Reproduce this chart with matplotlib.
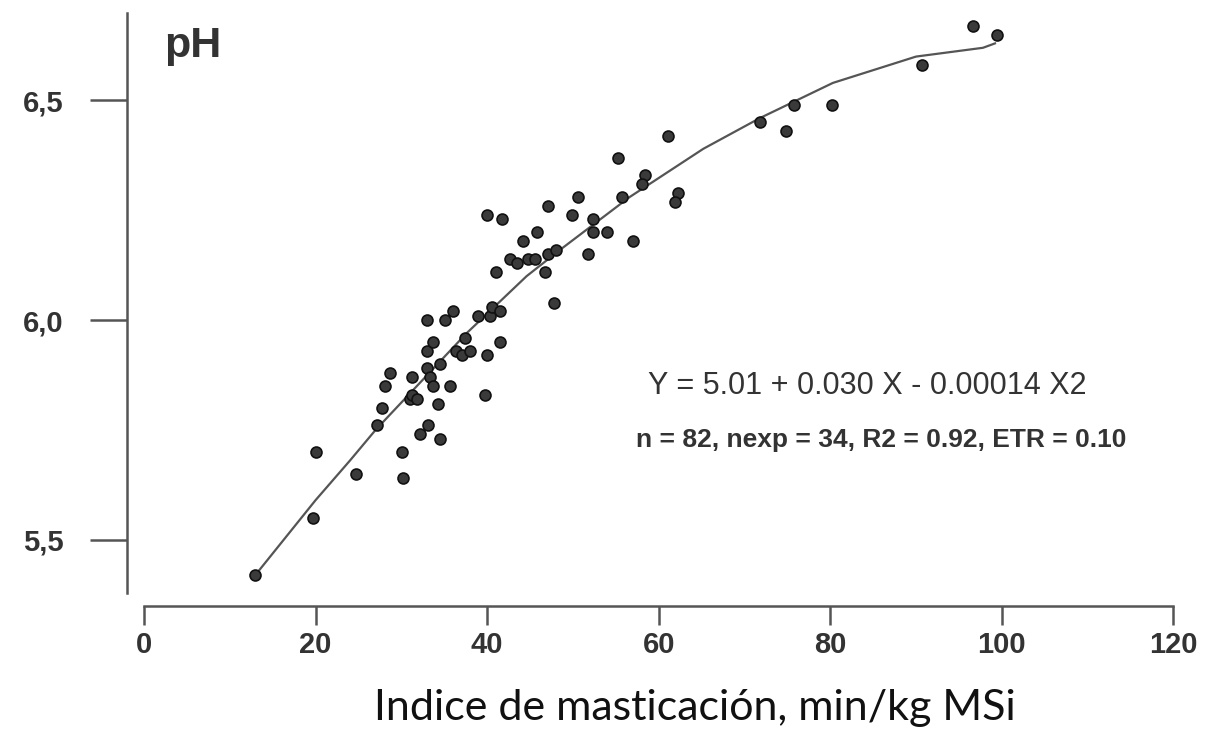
import numpy as np
import matplotlib
matplotlib.use("Agg")
import matplotlib.pyplot as plt

# chewing index (min/kg MSi) and rumen pH
masticacion = [12.9, 19.7, 20.0, 24.7, 27.2, 27.7, 28.1, 28.7, 30.1, 30.2,
               31.0, 31.2, 31.8, 31.2, 32.2, 33.1, 34.5, 33.0, 33.3, 33.7,
               34.3, 34.5, 35.7, 33.0, 33.7, 33.0, 35.1, 36.0, 36.4, 37.1,
               38.0, 37.4, 38.9, 40.3, 40.6, 41.5, 40.0, 39.7, 41.5, 41.0,
               42.7, 43.5, 44.8, 45.6, 46.7, 47.8, 44.2, 45.8, 47.1, 48.0,
               40.0, 41.7, 47.1, 49.9, 50.6, 51.7, 52.3, 52.3, 54.0, 57.0,
               55.7, 55.2, 58.4, 58.0, 62.2, 61.9, 61.1, 71.8, 74.8, 75.8,
               80.2, 90.7, 96.6, 99.4]
ph = [5.42, 5.55, 5.70, 5.65, 5.76, 5.80, 5.85, 5.88, 5.70, 5.64,
      5.82, 5.83, 5.82, 5.87, 5.74, 5.76, 5.73, 5.89, 5.87, 5.85,
      5.81, 5.90, 5.85, 5.93, 5.95, 6.00, 6.00, 6.02, 5.93, 5.92,
      5.93, 5.96, 6.01, 6.01, 6.03, 6.02, 5.92, 5.83, 5.95, 6.11,
      6.14, 6.13, 6.14, 6.14, 6.11, 6.04, 6.18, 6.20, 6.15, 6.16,
      6.24, 6.23, 6.26, 6.24, 6.28, 6.15, 6.23, 6.20, 6.20, 6.18,
      6.28, 6.37, 6.33, 6.31, 6.29, 6.27, 6.42, 6.45, 6.43, 6.49,
      6.49, 6.58, 6.67, 6.65]

# fitted curve as drawn
curva_x = [13, 20, 24, 27, 37.6, 44.6, 48.5, 56.6, 65.2, 71.8, 80.3, 90, 97.8, 99.2]
curva_y = [5.42, 5.59, 5.68, 5.75, 5.97, 6.10, 6.16, 6.28, 6.39, 6.46, 6.54, 6.60, 6.62, 6.63]

xticks = [0, 20, 40, 60, 80, 100, 120]
yticks = [5.5, 6.0, 6.5]
ytick_labels = ["5,5", "6,0", "6,5"]

plt.rcParams['font.family'] = ['Liberation Sans', 'DejaVu Sans']

fig = plt.figure(figsize=(12.19, 7.31), dpi=100)
ax = fig.add_axes([0.1042, 0.171, 0.876, 0.8153])

ax.plot(curva_x, curva_y, color='#555555', lw=1.6, zorder=2)
ax.scatter(masticacion, ph, s=62, facecolor='#3a3a3a', edgecolor='#111111',
           linewidth=1.2, zorder=3)

ax.set_xlim(-1.98, 122.5)
ax.set_ylim(5.349, 6.706)

for side in ['top', 'right']:
    ax.spines[side].set_visible(False)
for side in ['left', 'bottom']:
    ax.spines[side].set_color('#555555')
    ax.spines[side].set_linewidth(1.8)
ax.spines['left'].set_bounds(5.378, 6.699)
ax.spines['bottom'].set_bounds(0, 120)

ax.set_xticks(xticks)
ax.set_xticklabels([str(t) for t in xticks])
ax.set_yticks(yticks)
ax.set_yticklabels(ytick_labels)
ax.tick_params(axis='y', length=26.5, width=1.8, color='#555555', pad=19,
               labelsize=21, labelcolor='#333333')
ax.tick_params(axis='x', length=14, width=1.8, color='#555555', pad=4,
               labelsize=21, labelcolor='#333333')
for lab in ax.get_xticklabels() + ax.get_yticklabels():
    lab.set_fontweight('bold')

ax.text(2.4, 6.60, "pH", fontsize=31, fontweight='bold', color='#333333',
        ha='left', va='baseline')
ax.text(58.7, 5.85, "Y = 5.01 + 0.030 X - 0.00014 X2", fontsize=22,
        color='#333333', ha='left', va='center')
ax.text(57.3, 5.727, "n = 82, nexp = 34, R2 = 0.92, ETR = 0.10", fontsize=19,
        fontweight='bold', color='#333333', ha='left', va='center')

fig.text(695 / 1219, 1 - 708 / 731, "Indice de masticación, min/kg MSi",
         fontsize=31, family=['Lato', 'DejaVu Sans'], color='#111111',
         ha='center', va='center')

fig.savefig("out.png", dpi=100)
